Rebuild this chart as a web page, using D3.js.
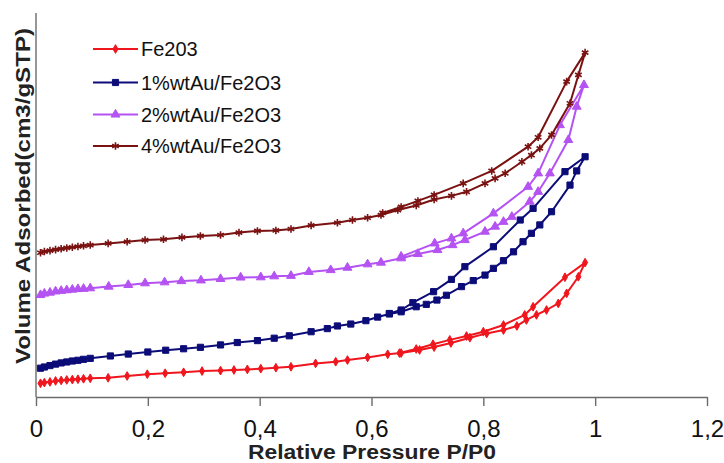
<!DOCTYPE html>
<html>
<head>
<meta charset="utf-8">
<script src="https://cdn.jsdelivr.net/npm/d3@7"></script>
<style>
  html, body { margin: 0; padding: 0; background: #fff; }
  svg { display: block; font-family: "Liberation Sans", Arial, sans-serif; }
</style>
</head>
<body>
<svg id="chart" width="724" height="463"></svg>
<script>
// Nitrogen isotherms: each series runs up the adsorption branch and back down the desorption branch.
const seriesNames = ["Fe203", "1%wtAu/Fe2O3", "2%wtAu/Fe2O3", "4%wtAu/Fe2O3"];
const seriesColors = ["#f0161e", "#0c0c78", "#b552f2", "#7a1212"];
const xTickValues = [0, 0.2, 0.4, 0.6, 0.8, 1, 1.2];
const xTickLabels = ["0", "0,2", "0,4", "0,6", "0,8", "1", "1,2"];

const fe2o3P = [0.008,0.015,0.025,0.035,0.045,0.055,0.065,0.075,0.085,0.097,0.129,0.163,0.199,0.231,0.264,0.297,0.33,0.354,0.378,0.402,0.429,0.456,0.5,0.536,0.557,0.593,0.629,0.653,0.686,0.712,0.742,0.776,0.806,0.836,0.86,0.877,0.895,0.913,0.934,0.949,0.97,0.982,
  0.946,0.889,0.874,0.836,0.8,0.77,0.74,0.71,0.68,0.65];
const fe2o3V = [5.7,6.0,6.3,6.7,6.9,7.1,7.25,7.4,7.6,7.8,8.0,8.75,9.5,9.9,10.3,10.8,11.0,11.25,11.5,11.8,12.2,12.6,14.0,14.7,15.4,16.5,17.8,18.3,19.6,20.8,22.5,24.7,26.5,27.9,29.6,32.1,34.2,36.25,39.0,43.2,50.1,56.0,
  49.9,37.6,34.2,30.0,27.2,25.4,23.8,22.0,20.0,18.3];

const au1P = [0.008,0.015,0.025,0.035,0.045,0.055,0.065,0.075,0.085,0.097,0.133,0.165,0.2,0.232,0.264,0.294,0.33,0.36,0.396,0.426,0.453,0.492,0.521,0.539,0.563,0.59,0.611,0.632,0.653,0.68,0.698,0.717,0.734,0.761,0.782,0.803,0.818,0.836,0.854,0.871,0.886,0.901,0.922,0.955,0.967,0.982,
  0.946,0.889,0.866,0.818,0.767,0.743,0.711,0.674,0.653,0.632];
const au1V = [12.0,12.5,13.1,13.7,14.2,14.6,15.0,15.3,15.7,16.1,17.1,17.9,18.75,19.5,20.1,20.7,21.7,22.7,23.5,24.5,25.5,27.2,28.5,29.6,30.4,31.8,33.3,34.6,35.5,37.6,38.6,40.4,42.4,46.0,48.5,50.8,53.6,56.8,60.5,64.7,68.2,71.7,77.2,88.3,94.2,100.1,
  93.9,78.6,73.75,62.6,54.3,49.0,43.9,39.3,36.25,34.8];

const au2P = [0.008,0.015,0.025,0.035,0.045,0.055,0.065,0.075,0.085,0.097,0.13,0.165,0.195,0.23,0.26,0.295,0.33,0.366,0.402,0.426,0.456,0.488,0.527,0.557,0.593,0.617,0.653,0.683,0.718,0.745,0.767,0.803,0.821,0.836,0.851,0.883,0.898,0.919,0.952,0.967,0.98,
  0.937,0.898,0.88,0.818,0.764,0.743,0.713,0.653];
const au2V = [42.5,43.1,43.5,44.0,44.25,44.5,44.75,45.0,45.1,45.3,46.0,46.7,47.4,47.8,48.3,48.6,49.2,49.8,49.9,50.3,50.5,52.1,52.9,53.9,55.3,56.0,57.8,59.6,61.25,63.3,65.4,68.9,71.0,73.0,75.1,81.4,85.5,93.2,107.1,121.0,130.0,
  113.3,93.2,87.6,76.5,68.2,66.1,64.0,58.5];

const au4P = [0.008,0.015,0.025,0.035,0.045,0.055,0.065,0.075,0.085,0.097,0.129,0.163,0.195,0.228,0.261,0.294,0.33,0.363,0.396,0.429,0.456,0.492,0.539,0.566,0.593,0.617,0.647,0.68,0.712,0.743,0.77,0.803,0.821,0.839,0.869,0.886,0.901,0.922,0.955,0.97,0.982,
  0.949,0.898,0.88,0.815,0.764,0.712,0.683,0.653,0.62];
const au4V = [60.1,60.6,61.0,61.4,61.75,62.1,62.4,62.7,63.0,63.3,64.0,64.7,65.4,65.7,66.5,67.1,67.5,68.5,69.2,69.4,70.0,71.5,72.6,73.75,74.7,75.8,77.9,79.8,82.3,83.8,85.5,89.0,91.1,93.2,98.0,100.8,103.6,109.2,122.4,134.2,143.5,
  131.4,108.2,104.3,94.2,89.0,84.2,81.7,79.2,76.7];

const pressures = [fe2o3P, au1P, au2P, au4P];
const volumes = [fe2o3V, au1V, au2V, au4V];

const svg = d3.select("#chart");
const margin = { left: 36, right: 17, top: 13, bottom: 66 };
const W = 724, H = 463;

const x = d3.scaleLinear().domain([0, 1.2]).range([margin.left, W - margin.right]);
const y = d3.scaleLinear().domain([0, 160]).range([H - margin.bottom, margin.top]);

// marker shapes per series: diamond, square, triangle, asterisk
const symbolTypes = [d3.symbolDiamond, d3.symbolSquare, d3.symbolTriangle, d3.symbolAsterisk];
const symbolSizes = [22, 38, 34, 40];
const symbolFilled = [true, true, true, false];

function drawMarker(g, i, cx, cy) {
  const path = d3.symbol().type(symbolTypes[i]).size(symbolSizes[i])();
  const m = g.append("path")
    .attr("d", path)
    .attr("transform", `translate(${cx},${cy})`);
  if (symbolFilled[i]) {
    m.attr("fill", seriesColors[i]).attr("stroke", seriesColors[i]).attr("stroke-width", 1);
  } else {
    m.attr("fill", "none").attr("stroke", seriesColors[i]).attr("stroke-width", 1.6);
  }
}

// x axis with outward ticks
const xAxis = d3.axisBottom(x)
  .tickValues(xTickValues)
  .tickFormat((d, i) => xTickLabels[i])
  .tickSize(9)
  .tickSizeOuter(0)
  .tickPadding(14);
const gx = svg.append("g")
  .attr("transform", `translate(0,${y(0)})`)
  .call(xAxis);
gx.select(".domain").attr("stroke", "#6b6b6b").attr("stroke-width", 1.4);
gx.selectAll(".tick line").attr("stroke", "#6b6b6b").attr("stroke-width", 1.4);
gx.selectAll(".tick text")
  .attr("fill", "#111")
  .style("font-size", "24px")
  .style("font-family", "'Liberation Sans', Arial, sans-serif");

// y axis: plain line, no ticks
svg.append("line")
  .attr("x1", x(0)).attr("x2", x(0))
  .attr("y1", y(160)).attr("y2", y(0))
  .attr("stroke", "#6b6b6b").attr("stroke-width", 1.4);

// series lines and markers
const line = d3.line().x(d => x(d[0])).y(d => y(d[1]));
pressures.forEach((ps, i) => {
  const pts = ps.map((p, k) => [p, volumes[i][k]]);
  const g = svg.append("g");
  g.append("path")
    .datum(pts)
    .attr("d", line)
    .attr("fill", "none")
    .attr("stroke", seriesColors[i])
    .attr("stroke-width", 2)
    .attr("stroke-linejoin", "round");
  pts.forEach(d => drawMarker(g, i, x(d[0]), y(d[1])));
});

// legend
const legendRows = [49, 82.5, 114.5, 146];
seriesNames.forEach((name, i) => {
  const g = svg.append("g");
  const ly = legendRows[i];
  g.append("line")
    .attr("x1", 93).attr("x2", 138)
    .attr("y1", ly).attr("y2", ly)
    .attr("stroke", seriesColors[i]).attr("stroke-width", 2);
  drawMarker(g, i, 115.5, ly);
  g.append("text")
    .attr("x", 141).attr("y", ly)
    .attr("dy", "0.35em")
    .attr("fill", "#111")
    .style("font-size", "20px")
    .text(name);
});

// axis titles
svg.append("text")
  .attr("x", 372).attr("y", 459)
  .attr("text-anchor", "middle")
  .attr("fill", "#222")
  .style("font-size", "20px")
  .style("font-weight", "bold")
  .attr("textLength", 248)
  .attr("lengthAdjust", "spacingAndGlyphs")
  .text("Relative Pressure P/P0");

svg.append("text")
  .attr("transform", "translate(30,196) rotate(-90)")
  .attr("text-anchor", "middle")
  .attr("fill", "#222")
  .style("font-size", "21px")
  .style("font-weight", "bold")
  .attr("textLength", 336)
  .attr("lengthAdjust", "spacingAndGlyphs")
  .text("Volume Adsorbed(cm3/gSTP)");
</script>
</body>
</html>
